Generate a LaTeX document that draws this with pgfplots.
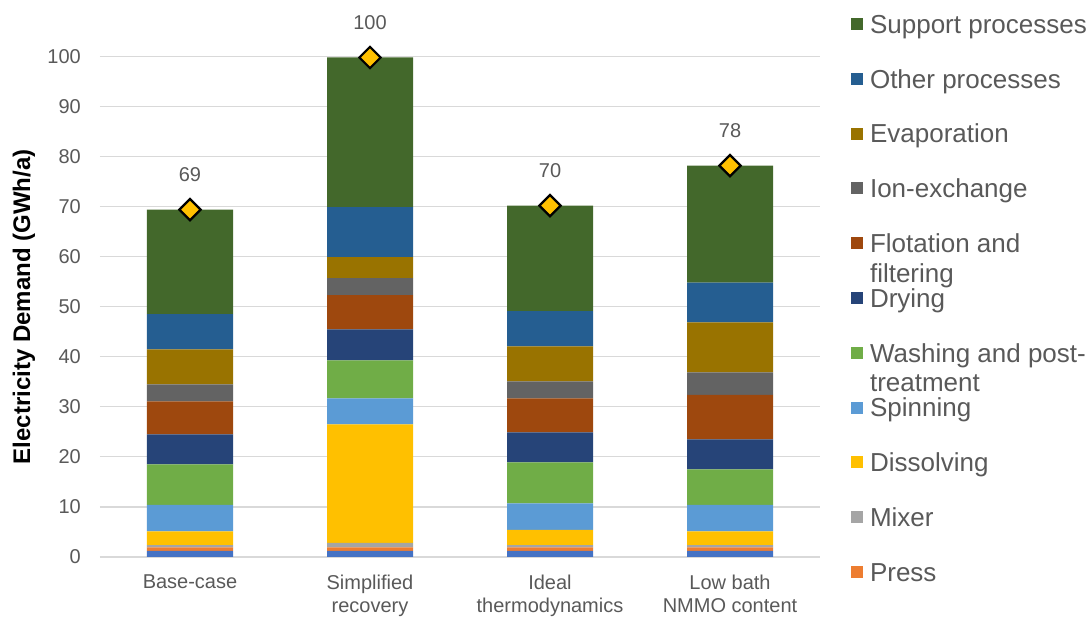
\documentclass[border=0pt]{standalone}
\usepackage{pgfplots}
\pgfplotsset{compat=1.18}
\usepackage{fontspec}
\setmainfont{Liberation Sans}
\definecolor{cSup}{HTML}{43682B}
\definecolor{cOth}{HTML}{255E91}
\definecolor{cEva}{HTML}{997300}
\definecolor{cIon}{HTML}{636363}
\definecolor{cFlo}{HTML}{9E480E}
\definecolor{cDry}{HTML}{264478}
\definecolor{cWas}{HTML}{70AD47}
\definecolor{cSpi}{HTML}{5B9BD5}
\definecolor{cDis}{HTML}{FFC000}
\definecolor{cMix}{HTML}{A5A5A5}
\definecolor{cPre}{HTML}{ED7D31}
\definecolor{cBot}{HTML}{4472C4}
\definecolor{cTxt}{HTML}{595959}
\definecolor{cGrid}{HTML}{D9D9D9}
\definecolor{cDia}{HTML}{FFC000}
\begin{document}
\begin{tikzpicture}
\useasboundingbox (0,0) rectangle (1092pt,617pt);
\pgfplotsset{
  myaxis/.style={
    at={(100pt,60pt)}, anchor=south west,
    scale only axis, width=720pt, height=500.5pt,
    xmin=-0.5, xmax=3.5, ymin=0, ymax=100,
    clip=false,
  }
}
\begin{axis}[myaxis,
  ybar stacked, bar width=86pt,
  xtick={0,1,2,3},
  xticklabels={Base-case,{Simplified\\recovery},{Ideal\\thermodynamics},{Low bath\\NMMO content}},
  xticklabel style={align=center, inner sep=0pt, anchor=north, yshift=-18pt, font=\fontsize{20}{23}\selectfont, text=cTxt},
  ytick={0,10,...,100},
  yticklabel style={inner sep=0pt, anchor=east, xshift=-19pt, font=\fontsize{20}{24}\selectfont, text=cTxt},
  /pgf/number format/assume math mode=true,
  ymajorgrids, major grid style={color=cGrid, line width=1.2pt},
  axis line style={draw=none}, tick style={draw=none},
  ylabel={Electricity Demand (GWh/a)},
  ylabel style={at={(axis description cs:-0.1056,0.5)}, rotate=0, anchor=center, font=\bfseries\fontsize{24}{28}\selectfont, text=black},
  legend image code/.code={\fill[#1] (0pt,-6pt) rectangle (12pt,6pt);},
  reverse legend,
  legend cell align=left,
  legend style={at={(1.0431,1.0889)}, anchor=north west, draw=none, fill=none,
    inner sep=0pt, outer sep=0pt, row sep=30.8pt,
    nodes={inner sep=0pt, text height=21.3pt, text depth=2.7pt, anchor=west},
    /tikz/every odd column/.append style={column sep=7pt},
    font=\fontsize{26}{29}\selectfont, text=cTxt},
]
\addplot[fill=cBot, draw=none, forget plot] coordinates {(0,1.2) (1,1.2) (2,1.2) (3,1.2)};
\addplot[fill=cPre, draw=none] coordinates {(0,0.7) (1,0.7) (2,0.7) (3,0.7)};
\addlegendentry{Press}
\addplot[fill=cMix, draw=none] coordinates {(0,0.45) (1,0.9) (2,0.45) (3,0.45)};
\addlegendentry{Mixer}
\addplot[fill=cDis, draw=none] coordinates {(0,2.75) (1,23.7) (2,3.05) (3,2.75)};
\addlegendentry{Dissolving}
\addplot[fill=cSpi, draw=none] coordinates {(0,5.3) (1,5.2) (2,5.3) (3,5.3)};
\addlegendentry{Spinning}
\addplot[fill=cWas, draw=none] coordinates {(0,8.1) (1,7.6) (2,8.2) (3,7.1)};
\addlegendentry{\makebox[0pt][l]{\raisebox{-29.5pt}[0pt][0pt]{treatment}}Washing and post-}
\addplot[fill=cDry, draw=none] coordinates {(0,6.0) (1,6.2) (2,6.0) (3,6.0)};
\addlegendentry{Drying}
\addplot[fill=cFlo, draw=none] coordinates {(0,6.6) (1,6.8) (2,6.8) (3,8.9)};
\addlegendentry{\makebox[0pt][l]{\raisebox{-29.5pt}[0pt][0pt]{filtering}}Flotation and}
\addplot[fill=cIon, draw=none] coordinates {(0,3.4) (1,3.4) (2,3.4) (3,4.5)};
\addlegendentry{Ion-exchange}
\addplot[fill=cEva, draw=none] coordinates {(0,7.0) (1,4.2) (2,7.0) (3,10.0)};
\addlegendentry{Evaporation}
\addplot[fill=cOth, draw=none] coordinates {(0,7.0) (1,10.0) (2,7.0) (3,7.9)};
\addlegendentry{Other processes}
\addplot[fill=cSup, draw=none] coordinates {(0,20.9) (1,29.9) (2,21.1) (3,23.4)};
\addlegendentry{Support processes}
\end{axis}
\begin{axis}[myaxis, hide axis]
\addplot[only marks, mark=square*, mark size=7.5pt,
  mark options={rotate=45, fill=cDia, draw=black, line width=2.2pt},
  point meta=explicit symbolic, nodes near coords,
  every node near coord/.append style={anchor=center, yshift=35pt, inner sep=0pt, font=\fontsize{20}{24}\selectfont, text=cTxt}]
  coordinates {(0,69.4) [69] (1,99.8) [100] (2,70.2) [70] (3,78.2) [78]};
\end{axis}
\end{tikzpicture}
\end{document}
